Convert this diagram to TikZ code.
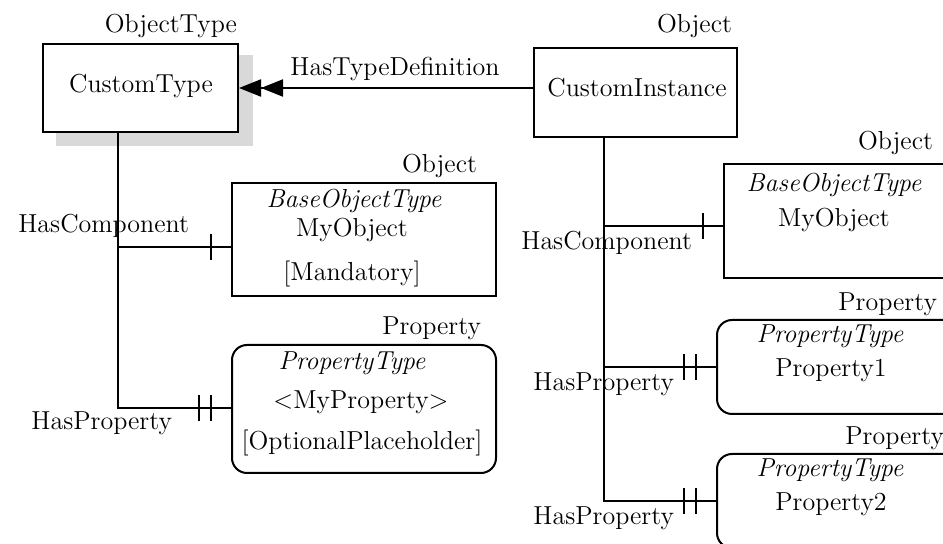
\documentclass[tikz,border=0pt]{standalone}
\usetikzlibrary{arrows.meta}
\usetikzlibrary{decorations.markings}

\begin{document}
\begin{tikzpicture}[x=0.5pt,y=-0.5pt,line width=1pt,
        every node/.style={font=\fontsize{13}{15}\selectfont,inner sep=0pt},
        box/.style={draw,fill=white,line width=1pt},
        pbox/.style={box,rounded corners=7.5pt},
        onebar/.style={postaction={decorate,decoration={markings,
            mark=at position -10pt with {\draw[line width=1pt] (0,-6.5pt) -- (0,6.5pt);}}}},
        twobar/.style={postaction={decorate,decoration={markings,
            mark=at position -16pt with {\draw[line width=1pt] (0,-6.5pt) -- (0,6.5pt);},
            mark=at position -10pt with {\draw[line width=1pt] (0,-6.5pt) -- (0,6.5pt);}}}}]
        \path[use as bounding box] (0,0) rectangle (943,544);
        \clip (0,0) rectangle (943,544);
        \fill[white] (0,0) rectangle (943,544);
        \fill[gray!30] (56,55) rectangle (253,146);
        \node[box,minimum width=97.5pt,minimum height=44pt] (ctype) at (140.5,88) {};
        \node[anchor=base east] (ctypelabel) at (238,33) {ObjectType};
        \node[anchor=base] (ctypename) at (141,93) {CustomType};
        \node[box,minimum width=101.5pt,minimum height=44.5pt] (ci) at (635.5,92.5) {};
        \node[anchor=base east] (cilabel) at (733,33) {Object};
        \node[anchor=base] (ciname) at (637,97) {CustomInstance};
        \draw[-{Triangle[length=11pt,width=8.5pt]Triangle[length=11pt,width=8.5pt]}] (ci.west |- ctype.east) -- (ctype.east);
        \node[anchor=base] (deflabel) at (395,76) {HasTypeDefinition};
        \node[box,minimum width=132pt,minimum height=56.5pt] (lobj) at (364,239.5) {};
        \node[anchor=base east] (lobjlabel) at (478,173) {Object};
        \node[anchor=base] (lobjtype) at (354,208) {\itshape BaseObjectType};
        \node[anchor=base] (lobjname) at (352,237) {MyObject};
        \node[anchor=base] (lobjrule) at (352,281) {[Mandatory]};
        \node[pbox,minimum width=132pt,minimum height=64pt] (lprop) at (364,409) {};
        \node[anchor=base east] (lproplabel) at (482,335) {Property};
        \node[anchor=base] (lproptype) at (352,370) {\itshape PropertyType};
        \node[anchor=base] (lpropname) at (361,409) {\textless MyProperty\textgreater};
        \node[anchor=base] (lproprule) at (362,450) {[OptionalPlaceholder]};
        \coordinate (lc) at (118,247);
        \coordinate (lp) at (118,408);
        \draw[twobar] (ctype.south -| lc) -- (lp) -- (lprop.west |- lp);
        \draw[onebar] (lc) -- (lobj.west |- lc);
        \node[anchor=base east] (lcomplabel) at (190,233) {HasComponent};
        \node[anchor=base east] (lproplink) at (173,430) {HasProperty};
        \node[box,minimum width=133pt,minimum height=57pt] (robj) at (857,221) {};
        \node[anchor=base east] (robjlabel) at (934,150) {Object};
        \node[anchor=base] (robjtype) at (834,192) {\itshape BaseObjectType};
        \node[anchor=base] (robjname) at (834,227) {MyObject};
        \foreach \n/\y/\r in {1/367/938,2/501/945}{
            \node[pbox,minimum width=133pt,minimum height=47pt] (rprop\n) at (850,\y) {};
            \node[anchor=base east] (rproplabel\n) at (\r,\y-56) {Property};
            \node[anchor=base] (rproptype\n) at (830,\y-24) {\itshape PropertyType};
            \node[anchor=base] (rpropname\n) at (831,\y+10) {Property\n};
            \node[anchor=base east] (rproplink\n) at (675,\y+24) {HasProperty};
        };
        \coordinate (rc) at (604,226);
        \draw[twobar] (ci.south -| rc) -- (rprop2.west -| rc) -- (rprop2.west);
        \draw[onebar] (rc) -- (robj.west |- rc);
        \draw[twobar] (rprop1.west -| rc) -- (rprop1.west);
        \node[anchor=base east] (rcomplabel) at (693,250) {HasComponent};
    \end{tikzpicture}
\end{document}
